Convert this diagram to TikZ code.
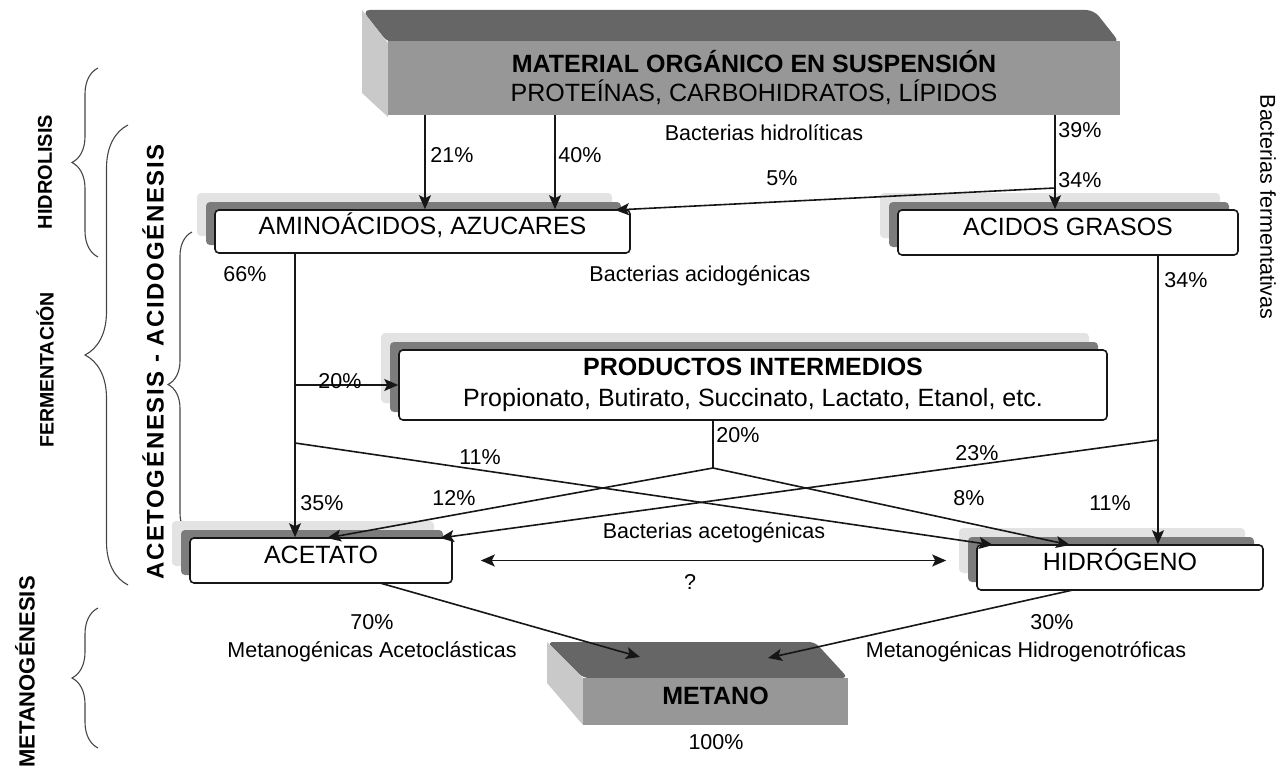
\documentclass[tikz,border=0pt]{standalone}
\usepackage{fontspec}
\setmainfont{Liberation Sans}
\usetikzlibrary{arrows.meta, positioning, shadows, decorations.pathreplacing}
\definecolor{frontgray}{HTML}{979797}
\definecolor{topdark}{HTML}{666666}
\definecolor{sidelight}{HTML}{C9C9C9}
\definecolor{shadedark}{HTML}{7C7C7C}
\definecolor{shadelight}{HTML}{E3E3E3}
\definecolor{ink}{HTML}{161616}
\newcommand{\bigtxt}{\fontsize{25}{29}\selectfont}
\newcommand{\smalltxt}{\fontsize{21.5}{24}\selectfont}

\begin{document}
\begin{tikzpicture}[x=1pt, y=-1pt,
  box/.style={rectangle, draw=ink, line width=1.6pt, rounded corners=4pt, fill=white,
              inner sep=0pt, align=center, font=\bigtxt,
              general shadow={fill=shadelight, shadow xshift=-18pt, shadow yshift=17pt},
              general shadow={fill=shadedark, shadow xshift=-9pt, shadow yshift=8pt}},
  onebox/.style={box, text height=12pt, text depth=6pt},
  face/.style={rectangle, fill=frontgray, inner sep=0pt, align=center, font=\bigtxt},
  pct/.style={font=\smalltxt, inner sep=1pt},
  phase/.style={font=\bfseries, rotate=90, inner sep=0pt},
  curly/.style={decorate, decoration={brace, amplitude=#1}, line width=1.1pt, draw=ink!80},
  arr/.style={-{Stealth[length=14pt, width=12pt, inset=3pt]}, line width=1.6pt, draw=ink},
  ln/.style={line width=1.3pt, draw=ink}
]
  \useasboundingbox (0,0) rectangle (1283,768);

  % phase braces and titles
  \draw[curly=26pt] (98,257) -- (98,68);
  \draw[curly=43pt] (128,585) -- (128,125);
  \draw[curly=24pt] (192,537) -- (192,232);
  \draw[curly=26pt] (98,748) -- (98,608);
  \node[phase, font=\fontsize{20}{22}\selectfont\bfseries] (hidrolisis) at (45,172) {HIDROLISIS};
  \node[phase, font=\fontsize{19.5}{22}\selectfont\bfseries] (fermenta) at (45,370) {FERMENTACIÓN};
  \node[phase, font=\fontsize{24}{26}\selectfont\bfseries\addfontfeature{LetterSpace=7}] (acetogen) at (153,362) {ACETOGÉNESIS - ACIDOGÉNESIS};
  \node[phase, font=\fontsize{22}{24}\selectfont\bfseries] (metanogen) at (25,672) {METANOGÉNESIS};
  \node[pct, rotate=-90] (bactferm) at (1268,207) {Bacterias fermentativas};

  % top block
  \fill[topdark, rounded corners=8pt] (362,10) -- (1094,10) -- (1120,43) -- (388,43) -- cycle;
  \fill[sidelight] (362,10) -- (388,43) -- (388,117) -- (362,93) -- cycle;
  \node[face, minimum width=732pt, minimum height=74pt] (matorg) at (754,78)
    {{\bfseries MATERIAL ORGÁNICO EN SUSPENSIÓN}\\PROTEÍNAS, CARBOHIDRATOS, LÍPIDOS};

  % boxes
  \node[onebox, minimum width=415pt, minimum height=43pt] (amino) at (422.5,231.5) {AMINOÁCIDOS, AZUCARES};
  \node[onebox, minimum width=340pt, minimum height=45pt] (acidos) at (1068,232.5) {ACIDOS GRASOS};
  \node[box, minimum width=708pt, minimum height=70pt] (produc) at (753,385)
    {{\bfseries PRODUCTOS INTERMEDIOS}\\[2pt]Propionato, Butirato, Succinato, Lactato, Etanol, etc.};
  \node[onebox, minimum width=262pt, minimum height=45pt] (acetato) at (321,560.5) {ACETATO};
  \node[onebox, minimum width=286pt, minimum height=45pt] (hidro) at (1120,567.5) {HIDRÓGENO};

  % bottom block
  \fill[topdark, rounded corners=6pt] (547,642) -- (815,642) -- (848,678) -- (583,678) -- cycle;
  \fill[sidelight] (547,642) -- (583,678) -- (583,725) -- (547,683) -- cycle;
  \node[face, minimum width=265pt, minimum height=47pt, text height=12pt, text depth=6pt,
        font=\bigtxt\bfseries] (metano) at (715.5,701.5) {METANO};
  \coordinate (metanoL) at (640,657);
  \coordinate (metanoR) at (768,658);

  % split points
  \coordinate (c21) at (425,0);
  \coordinate (c40) at (555,0);
  \coordinate (c39) at (1055,0);
  \coordinate (split5) at (1055,188);
  \coordinate (c66) at (295,0);
  \coordinate (c34) at (1158,0);
  \coordinate (c20) at (713,0);
  \coordinate (splitA) at (295,443);
  \coordinate (splitB) at (1158,440);
  \coordinate (junc) at (713,468);

  % connectors
  \draw[arr] (c21 |- matorg.south) -- (c21 |- amino.north);
  \draw[arr] (c40 |- matorg.south) -- (c40 |- amino.north);
  \draw[arr] (c39 |- matorg.south) -- (c39 |- acidos.north);
  \draw[arr] (split5) -- (615,210);
  \draw[arr] (c66 |- amino.south) -- (c66 |- acetato.north);
  \draw[arr] (c34 |- acidos.south) -- (c34 |- hidro.north);
  \draw[arr] (c66 |- produc.west) -- (produc.west);
  \draw[ln] (c20 |- produc.south) -- (junc);
  \draw[arr] (junc) -- (327,538);
  \draw[arr] (junc) -- (1070,545);
  \draw[arr] (splitA) -- (993,545);
  \draw[arr] (splitB) -- (440,538);
  \draw[{Stealth[length=14pt, width=12pt, inset=3pt]}-{Stealth[length=14pt, width=12pt, inset=3pt]}, line width=1.6pt, draw=ink]
    ([xshift=28pt]acetato.east) -- ([xshift=-30pt]hidro.west |- acetato.east);
  \draw[arr] (380,583) -- (metanoL);
  \draw[arr] (1073,590) -- (metanoR);

  % labels
  \node[pct] (p21) at (452,155) {21\%};
  \node[pct] (p40) at (580,155) {40\%};
  \node[pct] (hidrol) at (764,133) {Bacterias hidrolíticas};
  \node[pct] (p39) at (1080,130) {39\%};
  \node[pct] (p34a) at (1080,180) {34\%};
  \node[pct] (p5) at (782,178) {5\%};
  \node[pct] (p66) at (245,274) {66\%};
  \node[pct] (acidog) at (700,276) {Bacterias acidogénicas};
  \node[pct] (p34b) at (1186,280) {34\%};
  \node[pct] (p20a) at (340,381) {20\%};
  \node[pct] (p20b) at (738,435) {20\%};
  \node[pct] (p11a) at (480,457) {11\%};
  \node[pct] (p23) at (977,453) {23\%};
  \node[pct] (p35) at (322,503) {35\%};
  \node[pct] (p12) at (454,498) {12\%};
  \node[pct] (p8) at (969,498) {8\%};
  \node[pct] (p11b) at (1110,503) {11\%};
  \node[pct] (acetog) at (714,533) {Bacterias acetogénicas};
  \node[pct] (quest) at (690,582) {?};
  \node[pct] (p70) at (372,622) {70\%};
  \node[pct] (acetoc) at (372,652) {Metanogénicas Acetoclásticas};
  \node[pct] (p30) at (1052,622) {30\%};
  \node[pct] (hidrot) at (1026,652) {Metanogénicas Hidrogenotróficas};
  \node[pct] (p100) at (716,742) {100\%};
\end{tikzpicture}
\end{document}
